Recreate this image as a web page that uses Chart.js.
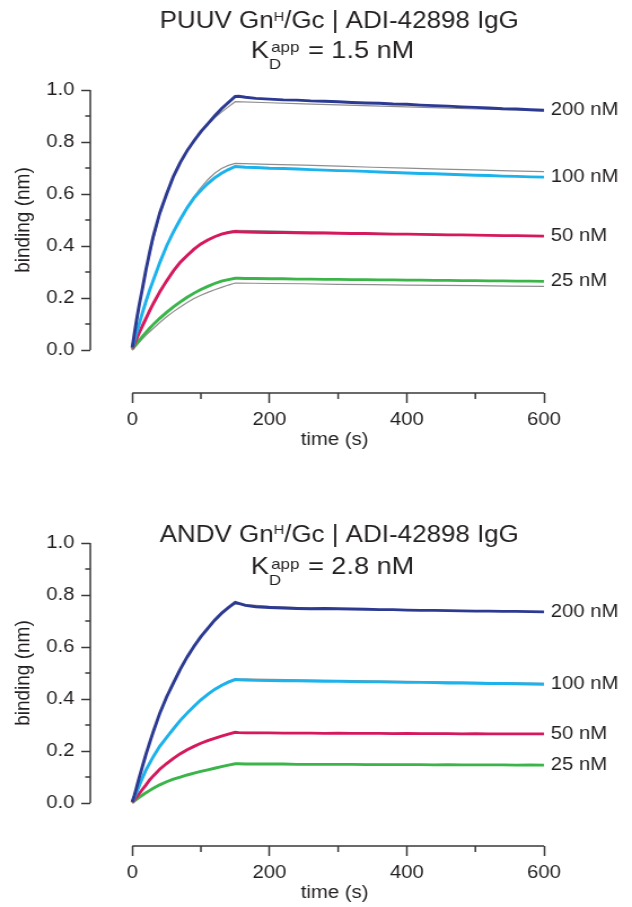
<!DOCTYPE html>
<html>
<head>
<meta charset="utf-8">
<script src="https://cdn.jsdelivr.net/npm/chart.js@4.4.1/dist/chart.umd.min.js"></script>
<style>
  html, body { margin: 0; padding: 0; background: #fff; }
  body { position: relative; width: 632px; height: 907px; overflow: hidden; }
  canvas { position: absolute; left: 0; }
</style>
</head>
<body>
<canvas id="puuv" width="560" height="453" style="top:0;width:632px;height:453px"></canvas>
<canvas id="andv" width="560" height="453" style="top:453px;width:632px;height:453px"></canvas>
<script>
/* globals Chart */

// sensorgram time points (s): association 0-150, dissociation 150-600
var times = [0, 3, 6, 10, 15, 20, 25, 30, 40, 50, 60, 70, 80, 90, 100, 110, 120, 130, 140, 150,
    155, 165, 180, 200, 220, 240, 260, 280, 300, 320, 340, 360, 380, 400, 420, 440, 460, 480, 500, 520, 540, 560, 580, 600];
// time points of the fitted curves
var fitTimes = [0, 10, 20, 30, 40, 50, 60, 70, 80, 90, 100, 110, 120, 130, 140, 150, 200, 250, 300, 350, 400, 450, 500, 550, 600];

var concLabels = ['200 nM', '100 nM', '50 nM', '25 nM'];
var concColors = ['#2c3a92', '#1cb2ec', '#d6195d', '#3bb54a'];
var fitColor = '#8e8e8e';

// PUUV GnH/Gc
var puuv200 = [0.010, 0.062, 0.112, 0.172, 0.240, 0.310, 0.372, 0.432, 0.527, 0.600, 0.668, 0.722, 0.767, 0.805, 0.840, 0.870, 0.900, 0.928, 0.952, 0.975,
    0.976, 0.972, 0.968, 0.965, 0.962, 0.961, 0.958, 0.957, 0.955, 0.952, 0.950, 0.949, 0.946, 0.945, 0.942, 0.940, 0.938, 0.935, 0.933, 0.931, 0.928, 0.927, 0.924, 0.922];
var puuv100 = [0.008, 0.037, 0.065, 0.100, 0.145, 0.188, 0.228, 0.264, 0.336, 0.400, 0.455, 0.503, 0.547, 0.585, 0.614, 0.640, 0.662, 0.680, 0.694, 0.706,
    0.705, 0.703, 0.702, 0.699, 0.698, 0.696, 0.694, 0.692, 0.690, 0.689, 0.687, 0.685, 0.683, 0.681, 0.679, 0.678, 0.676, 0.674, 0.672, 0.671, 0.669, 0.668, 0.666, 0.665];
var puuv50 = [0.006, 0.024, 0.042, 0.066, 0.094, 0.122, 0.150, 0.176, 0.224, 0.266, 0.305, 0.338, 0.364, 0.388, 0.408, 0.423, 0.436, 0.446, 0.452, 0.456,
    0.455, 0.454, 0.453, 0.452, 0.452, 0.451, 0.450, 0.450, 0.449, 0.448, 0.448, 0.447, 0.446, 0.446, 0.445, 0.444, 0.443, 0.443, 0.442, 0.441, 0.440, 0.440, 0.439, 0.438];
var puuv25 = [0.004, 0.014, 0.024, 0.037, 0.053, 0.068, 0.083, 0.097, 0.122, 0.145, 0.166, 0.185, 0.203, 0.219, 0.233, 0.245, 0.256, 0.265, 0.271, 0.276,
    0.276, 0.275, 0.275, 0.274, 0.274, 0.273, 0.273, 0.272, 0.272, 0.271, 0.271, 0.270, 0.270, 0.269, 0.269, 0.268, 0.268, 0.267, 0.267, 0.266, 0.266, 0.265, 0.265, 0.264];
var puuv200Fit = [0.000, 0.165, 0.305, 0.420, 0.518, 0.598, 0.665, 0.720, 0.767, 0.806, 0.840, 0.868, 0.893, 0.915, 0.935, 0.955,
    0.951, 0.947, 0.943, 0.939, 0.935, 0.931, 0.927, 0.924, 0.920];
var puuv100Fit = [0.000, 0.098, 0.186, 0.264, 0.334, 0.398, 0.455, 0.505, 0.550, 0.590, 0.625, 0.655, 0.680, 0.698, 0.710, 0.718,
    0.714, 0.711, 0.707, 0.703, 0.700, 0.696, 0.693, 0.689, 0.686];
var puuv50Fit = [0.000, 0.064, 0.120, 0.172, 0.220, 0.262, 0.300, 0.334, 0.362, 0.387, 0.407, 0.423, 0.436, 0.447, 0.455, 0.460,
    0.458, 0.455, 0.452, 0.450, 0.447, 0.445, 0.442, 0.440, 0.437];
var puuv25Fit = [0.000, 0.030, 0.058, 0.082, 0.106, 0.128, 0.148, 0.166, 0.183, 0.198, 0.211, 0.222, 0.232, 0.241, 0.250, 0.258,
    0.256, 0.255, 0.253, 0.252, 0.250, 0.249, 0.248, 0.246, 0.245];

// ANDV GnH/Gc
var andv200 = [0.005, 0.030, 0.058, 0.097, 0.143, 0.188, 0.230, 0.270, 0.345, 0.408, 0.462, 0.515, 0.562, 0.603, 0.640, 0.672, 0.703, 0.730, 0.752, 0.772,
    0.768, 0.760, 0.755, 0.752, 0.750, 0.748, 0.747, 0.748, 0.747, 0.746, 0.745, 0.744, 0.744, 0.742, 0.741, 0.741, 0.740, 0.739, 0.738, 0.738, 0.737, 0.737, 0.736, 0.735];
var andv100 = [0.004, 0.022, 0.040, 0.066, 0.098, 0.128, 0.152, 0.176, 0.218, 0.252, 0.285, 0.318, 0.346, 0.372, 0.397, 0.418, 0.437, 0.452, 0.465, 0.475,
    0.474, 0.473, 0.472, 0.471, 0.470, 0.470, 0.469, 0.468, 0.468, 0.467, 0.466, 0.466, 0.465, 0.464, 0.464, 0.463, 0.462, 0.462, 0.461, 0.460, 0.460, 0.459, 0.458, 0.457];
var andv50 = [0.003, 0.013, 0.023, 0.036, 0.053, 0.070, 0.088, 0.103, 0.130, 0.152, 0.172, 0.190, 0.205, 0.218, 0.230, 0.240, 0.249, 0.257, 0.265, 0.272,
    0.271, 0.270, 0.270, 0.270, 0.269, 0.269, 0.269, 0.268, 0.269, 0.268, 0.268, 0.268, 0.267, 0.268, 0.267, 0.267, 0.267, 0.266, 0.267, 0.266, 0.266, 0.266, 0.266, 0.266];
var andv25 = [0.002, 0.008, 0.014, 0.022, 0.031, 0.040, 0.048, 0.056, 0.070, 0.082, 0.092, 0.100, 0.108, 0.115, 0.122, 0.128, 0.134, 0.140, 0.146, 0.151,
    0.151, 0.150, 0.150, 0.150, 0.150, 0.149, 0.149, 0.149, 0.149, 0.149, 0.148, 0.148, 0.148, 0.148, 0.148, 0.147, 0.148, 0.147, 0.147, 0.147, 0.147, 0.146, 0.147, 0.146];
var andv200Fit = [0.000, 0.095, 0.186, 0.268, 0.342, 0.408, 0.466, 0.518, 0.563, 0.603, 0.639, 0.671, 0.700, 0.725, 0.747, 0.766,
    0.756, 0.751, 0.748, 0.745, 0.743, 0.741, 0.739, 0.737, 0.735];
var andv100Fit = [0.000, 0.063, 0.122, 0.176, 0.220, 0.256, 0.290, 0.320, 0.348, 0.374, 0.398, 0.420, 0.439, 0.455, 0.468, 0.478,
    0.476, 0.474, 0.472, 0.470, 0.468, 0.466, 0.464, 0.462, 0.460];
var andv50Fit = [0.000, 0.036, 0.070, 0.101, 0.129, 0.152, 0.172, 0.190, 0.205, 0.219, 0.231, 0.242, 0.251, 0.259, 0.266, 0.272,
    0.271, 0.270, 0.270, 0.269, 0.268, 0.268, 0.267, 0.267, 0.266];
var andv25Fit = [0.000, 0.021, 0.040, 0.056, 0.070, 0.082, 0.092, 0.101, 0.109, 0.116, 0.123, 0.129, 0.135, 0.141, 0.146, 0.151,
    0.150, 0.150, 0.149, 0.149, 0.148, 0.148, 0.147, 0.147, 0.146];

var yTicks = [0, 0.2, 0.4, 0.6, 0.8, 1.0];
var yMinor = [0.1, 0.3, 0.5, 0.7, 0.9];
var xTicks = [0, 200, 400, 600];
var xMinor = [100, 300, 500];

var textColor = '#231f20';
var axisColor = '#3a3a3a';
var fontFamily = '"Liberation Sans", Arial, Helvetica, sans-serif';

Chart.defaults.font.family = fontFamily;
Chart.defaults.color = textColor;

function font(size) {
    "use strict";
    return size + 'px ' + fontFamily;
}

// draws a row of text pieces (super/subscripts) centred on cx
function drawRuns(ctx, runs, cx, baseline) {
    "use strict";
    var total = 0;
    runs.forEach(function (r) {
        ctx.font = font(r.size);
        r.w = ctx.measureText(r.text).width;
        total += (r.dx || 0) + (r.stack ? 0 : r.w);
    });
    var x = cx - total / 2;
    ctx.textAlign = 'left';
    ctx.textBaseline = 'alphabetic';
    runs.forEach(function (r) {
        x += (r.dx || 0);
        ctx.font = font(r.size);
        ctx.fillText(r.text, x, baseline + (r.dy || 0));
        if (!r.stack) {
            x += r.w;
        }
    });
}

var decorPlugin = {
    id: 'decor',
    afterDraw: function (chart) {
        "use strict";
        var opts = chart.options.plugins.decor;
        var ctx = chart.ctx;
        var xs = chart.scales.x;
        var ys = chart.scales.y;
        var area = chart.chartArea;
        var xMid = (xs.getPixelForValue(xTicks[0]) + xs.getPixelForValue(xTicks[xTicks.length - 1])) / 2;

        ctx.save();
        // detached axis lines and minor ticks
        ctx.strokeStyle = axisColor;
        ctx.lineWidth = 1.5;
        ctx.beginPath();
        ctx.moveTo(area.left, ys.getPixelForValue(yTicks[0]));
        ctx.lineTo(area.left, ys.getPixelForValue(yTicks[yTicks.length - 1]));
        ctx.moveTo(xs.getPixelForValue(xTicks[0]), area.bottom);
        ctx.lineTo(xs.getPixelForValue(xTicks[xTicks.length - 1]), area.bottom);
        yMinor.forEach(function (v) {
            var y = ys.getPixelForValue(v);
            ctx.moveTo(area.left - 4.5, y);
            ctx.lineTo(area.left, y);
        });
        xMinor.forEach(function (v) {
            var x = xs.getPixelForValue(v);
            ctx.moveTo(x, area.bottom);
            ctx.lineTo(x, area.bottom + 6);
        });
        ctx.stroke();

        ctx.fillStyle = textColor;

        // concentration labels at the end of each trace
        ctx.font = font(18);
        ctx.textAlign = 'left';
        ctx.textBaseline = 'middle';
        chart.data.datasets.forEach(function (ds, i) {
            if (!ds.endLabel) {
                return;
            }
            var pts = chart.getDatasetMeta(i).data;
            ctx.fillText(ds.endLabel, area.right + 6, pts[pts.length - 1].y);
        });

        // axis titles
        ctx.textAlign = 'center';
        ctx.font = font(18);
        ctx.fillText('time (s)', xMid - 3, area.bottom + 47);
        ctx.save();
        ctx.translate(20.6, ys.getPixelForValue(opts.yTitleAt));
        ctx.rotate(-Math.PI / 2);
        ctx.font = font(19);
        ctx.fillText('binding (nm)', 0, 0);
        ctx.restore();

        // two-line title with superscript / subscript
        drawRuns(ctx, [
            {text: opts.virus + ' Gn', size: 23},
            {text: 'H', size: 13, dy: -7.5},
            {text: '/Gc | ADI-42898 IgG', size: 23}
        ], xMid + 1, opts.line1);
        drawRuns(ctx, [
            {text: 'K', size: 24},
            {text: 'D', size: 15, dy: 11, stack: true},
            {text: 'app', size: 15, dy: -5.5, dx: 2},
            {text: ' = ' + opts.kd + ' nM', size: 24, dx: 1}
        ], xMid - 5, opts.line2);
        ctx.restore();
    }
};

function makeDatasets(traces, fits) {
    "use strict";
    var sets = [];
    traces.forEach(function (trace, i) {
        sets.push({
            data: fitTimes.map(function (t, j) {
                return {x: t, y: fits[i][j]};
            }),
            borderColor: fitColor,
            borderWidth: 1.2,
            pointRadius: 0,
            tension: 0,
            order: 2
        });
        sets.push({
            data: times.map(function (t, j) {
                return {x: t, y: trace[j]};
            }),
            endLabel: concLabels[i],
            borderColor: concColors[i],
            borderWidth: 2.9,
            pointRadius: 0,
            tension: 0,
            order: 1
        });
    });
    return sets;
}

function drawPanel(canvasId, virus, kd, traces, fits, place) {
    "use strict";
    var ctx = document.getElementById(canvasId).getContext('2d');
    return new Chart(ctx, {
        type: 'line',
        data: {datasets: makeDatasets(traces, fits)},
        options: {
            responsive: false,
            animation: false,
            devicePixelRatio: 1,
            layout: {padding: {left: 0, right: 78, top: 90, bottom: 0}},
            plugins: {
                legend: {display: false},
                tooltip: {enabled: false},
                decor: {virus: virus, kd: kd, line1: place.line1, line2: place.line2, yTitleAt: place.yTitleAt}
            },
            scales: {
                x: {
                    type: 'linear',
                    min: -61.2,
                    max: 600,
                    afterBuildTicks: function (scale) {
                        scale.ticks = xTicks.map(function (v) {
                            return {value: v};
                        });
                    },
                    afterFit: function (scale) {
                        scale.height = 60;
                    },
                    ticks: {autoSkip: false, maxRotation: 0, padding: 6, font: {size: 18}, color: textColor},
                    grid: {display: true, drawOnChartArea: false, drawTicks: true, tickLength: 10, tickWidth: 1.5, tickColor: axisColor},
                    border: {display: false}
                },
                y: {
                    min: -0.165,
                    max: 1.0,
                    afterBuildTicks: function (scale) {
                        scale.ticks = yTicks.map(function (v) {
                            return {value: v};
                        });
                    },
                    afterFit: function (scale) {
                        scale.width = 80;
                    },
                    ticks: {
                        autoSkip: false,
                        padding: 6,
                        font: {size: 18},
                        color: textColor,
                        callback: function (v) {
                            return Number(v).toFixed(1);
                        }
                    },
                    grid: {display: true, drawOnChartArea: false, drawTicks: true, tickLength: 8, tickWidth: 1.5, tickColor: axisColor},
                    border: {display: false}
                }
            }
        },
        plugins: [decorPlugin]
    });
}

drawPanel('puuv', 'PUUV', '1.5',
    [puuv200, puuv100, puuv50, puuv25],
    [puuv200Fit, puuv100Fit, puuv50Fit, puuv25Fit],
    {line1: 28, line2: 57.5, yTitleAt: 0.5});
drawPanel('andv', 'ANDV', '2.8',
    [andv200, andv100, andv50, andv25],
    [andv200Fit, andv100Fit, andv50Fit, andv25Fit],
    {line1: 88.5, line2: 121, yTitleAt: 0.5});
</script>
</body>
</html>
